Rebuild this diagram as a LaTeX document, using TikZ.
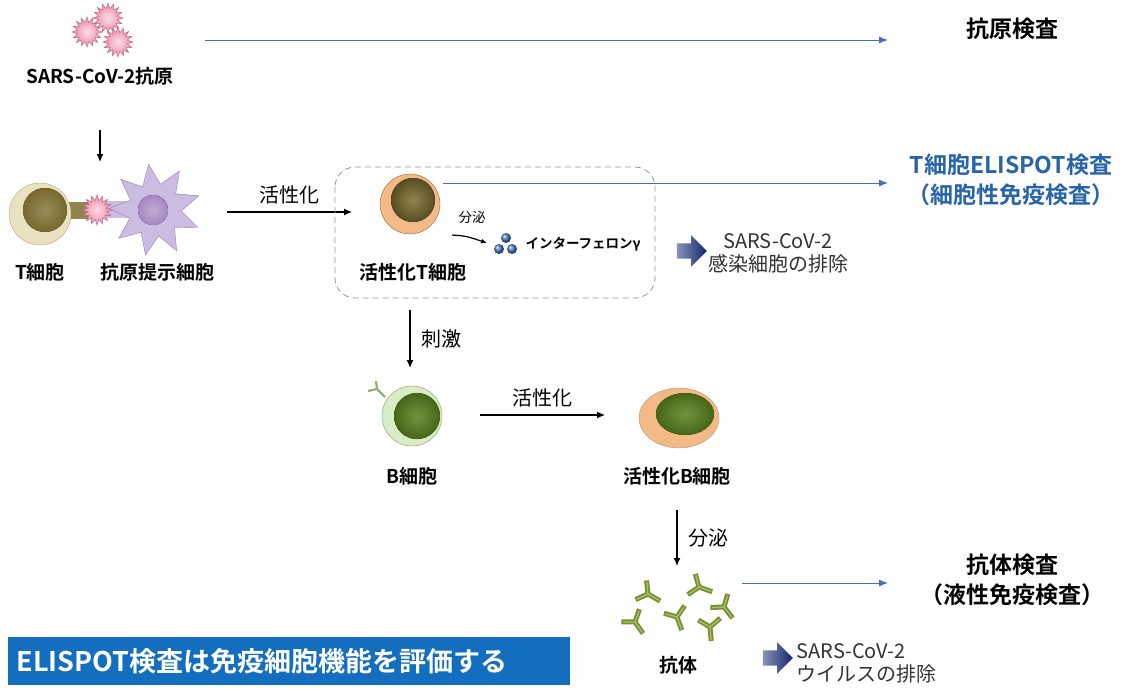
\documentclass[tikz,border=0pt]{standalone}
\usepackage{fontspec}
\setmainfont{Noto Sans CJK JP}[BoldFont={Noto Sans CJK JP Bold}]
\definecolor{testblue}{RGB}{66,114,176}
\definecolor{elispotblue}{RGB}{40,100,170}
\definecolor{bannerblue}{RGB}{20,110,192}
\definecolor{navyarrow}{RGB}{18,38,112}
\definecolor{virusfill}{RGB}{236,140,170}
\definecolor{virusedge}{RGB}{200,100,130}
\definecolor{tcream}{RGB}{232,226,190}
\definecolor{tedge}{RGB}{175,168,120}
\definecolor{olive}{RGB}{125,110,48}
\definecolor{lavender}{RGB}{205,188,225}
\definecolor{apcedge}{RGB}{150,125,180}
\definecolor{apccore}{RGB}{165,135,195}
\definecolor{actorange}{RGB}{243,185,135}
\definecolor{actedge}{RGB}{150,105,60}
\definecolor{bpale}{RGB}{218,236,198}
\definecolor{bedge}{RGB}{120,160,80}
\definecolor{bgreen}{RGB}{88,128,28}
\definecolor{abgreen}{RGB}{118,145,52}
\definecolor{ablight}{RGB}{170,192,100}
\definecolor{ifnblue}{RGB}{30,95,180}
\definecolor{boxgray}{RGB}{140,150,172}
\definecolor{notegray}{RGB}{50,50,50}
\usetikzlibrary{shapes.geometric,shapes.arrows,arrows.meta,positioning}

\begin{document}
\begin{tikzpicture}[x=1pt,y=-1pt,
  lbl/.style={font=\fontsize{19}{22}\selectfont\bfseries},
  note/.style={font=\fontsize{20}{23}\selectfont},
  small/.style={font=\fontsize{13.5}{15}\selectfont},
  test/.style={font=\fontsize{23}{30}\selectfont\bfseries,align=center},
  elim/.style={font=\fontsize{20}{23}\selectfont,text=notegray,align=center},
  flow/.style={-{Latex[length=8pt,width=7pt]},line width=1.2pt},
  testline/.style={-{Latex[length=9pt,width=7pt]},testblue,line width=0.9pt},
  virus/.style={star,star points=16,star point ratio=1.6,minimum size=#1,
                inner sep=0pt,draw=virusedge,line width=0.5pt,
                inner color=white!70!virusfill,outer color=virusfill},
  bigarrow/.style={single arrow,single arrow head extend=8pt,
                   minimum height=30pt,inner sep=7.5pt,
                   left color=navyarrow!50,right color=navyarrow},
  ab/.style={line width=5pt,abgreen},
  abin/.style={line width=1.3pt,ablight}]
\useasboundingbox (0,0) rectangle (1129,689);

% antigen
\node[virus=30pt] (v1) at (87,32) {};
\node[virus=30pt] (v2) at (108,18) {};
\node[virus=30pt] (v3) at (118,42) {};
\node[lbl] (agtxt) at (100,76) {SARS-CoV-2抗原};
\coordinate (agstart) at (205,40);
\coordinate (agend) at (888,40);
\draw[testline] (agstart) -- (agend);
\node[test] (agtest) at (1012,29) {抗原検査};

\coordinate (dn1a) at (100,130);
\coordinate (dn1b) at (100,162);
\draw[flow] (dn1a) -- (dn1b);

% T cell + antigen presenting cell
\fill[olive!85] (68,202) rectangle (100,219);
\fill[lavender] (100,201) rectangle (135,218);
\node[circle,minimum size=62pt,inner sep=0pt,draw=tedge,fill=tcream] (tcell) at (40,214) {};
\fill[inner color=olive!80,outer color=olive!95!black] (45,210) circle (22);
\node[star,star points=9,star point ratio=1.75,minimum size=92pt,inner sep=0pt,
      rotate=8,draw=apcedge,fill=lavender] (apc) at (155,210) {};
\fill[inner color=apccore!70,outer color=apccore] (153,210) circle (15);
\node[virus=30pt] (apcag) at (97,210) {};
\node[lbl] (tlbl) at (40,272) {T細胞};
\node[lbl] (apclbl) at (157,272) {抗原提示細胞};

\coordinate (act1a) at (227,212);
\coordinate (act1b) at (352,212);
\draw[flow] (act1a) -- node[above=4pt,note] (act1) {活性化} (act1b);

% activated T cell
\draw[boxgray,dashed,dash pattern=on 6pt off 4pt,rounded corners=20pt,line width=0.8pt]
  (335,167) rectangle (655,298);
\node[circle,minimum size=60pt,inner sep=0pt,draw=actedge,fill=actorange] (acttcell) at (410,204) {};
\fill[inner color=olive!85,outer color=olive!70!black] (413,200) circle (22);
\node[lbl] (acttlbl) at (413,272) {活性化T細胞};
\coordinate (elstart) at (443,183);
\coordinate (elend) at (888,183);
\draw[testline] (elstart) -- (elend);
\node[test,text=elispotblue] (eltest) at (1011,180) {T細胞ELISPOT検査\\（細胞性免疫検査）};

\coordinate (sec1a) at (452,235);
\coordinate (sec1b) at (487,243);
\draw[-{Latex[length=6pt,width=5pt]},line width=1.2pt] (sec1a) .. controls (466,236) .. (sec1b);
\node[small] (sec1) at (472,217) {分泌};
\shade[ball color=ifnblue!80!white] (506,238) circle (5);
\shade[ball color=ifnblue!80!white] (499,249) circle (5);
\shade[ball color=ifnblue!80!white] (512,249) circle (5);
\node[small,font=\fontsize{13.5}{15}\selectfont\bfseries,anchor=west] (ifn) at (522,244) {インターフェロンγ};

\node[bigarrow] (elim1) at (688,251) {};
\node[elim] (elim1txt) at (778,253) {SARS-CoV-2\\感染細胞の排除};

% B cell
\coordinate (stima) at (410,310);
\coordinate (stimb) at (410,368);
\draw[flow] (stima) -- node[right=8pt,note] (stim) {刺激} (stimb);
\draw[line width=2.2pt,bedge!80] (385,397) -- (377,389) -- (368,391) (377,389) -- (376,381);
\node[circle,minimum size=60pt,inner sep=0pt,draw=bedge,fill=bpale] (bcell) at (412,416) {};
\fill[inner color=bgreen!85,outer color=bgreen!80!black] (417,416) circle (23);
\node[lbl] (blbl) at (412,476) {B細胞};

\coordinate (act2a) at (480,415);
\coordinate (act2b) at (605,415);
\draw[flow] (act2a) -- node[above=4pt,note] (act2) {活性化} (act2b);

% activated B cell
\node[ellipse,minimum width=80pt,minimum height=60pt,inner sep=0pt,draw=actedge!70,fill=actorange] (actbcell) at (679,418) {};
\fill[inner color=bgreen!85,outer color=bgreen!80!black] (685,414) ellipse (29 and 21);
\node[lbl] (actblbl) at (677,476) {活性化B細胞};

\coordinate (sec2a) at (677,510);
\coordinate (sec2b) at (677,566);
\draw[flow] (sec2a) -- node[right=8pt,note] (sec2) {分泌} (sec2b);

% antibodies
\foreach \x/\y/\a in {648/594/60, 699/587/70, 724/607/38, 677/617/20, 635/622/35, 710/627/5}{
  \draw[ab,shift={(\x,\y)},rotate=\a] (0,14) -- (0,0) -- (-11,-8) (0,0) -- (11,-8);
  \draw[abin,shift={(\x,\y)},rotate=\a] (0,13) -- (0,0) -- (-10,-7) (0,0) -- (10,-7);
}
\node[lbl] (ablbl) at (678,665) {抗体};
\coordinate (abstart) at (742,583);
\coordinate (abend) at (888,583);
\draw[testline] (abstart) -- (abend);
\node[test] (abtest) at (1012,580) {抗体検査\\（液性免疫検査）};

\node[bigarrow] (elim2) at (774,658) {};
\node[elim,align=left,anchor=west] (elim2txt) at (793,663) {SARS-CoV-2\\ウイルスの排除};

% banner
\node[fill=bannerblue,text=white,minimum width=562pt,minimum height=48pt,
      text width=545pt,align=left,font=\fontsize{27}{30}\selectfont\bfseries]
  (banner) at (289,661) {ELISPOT検査は免疫細胞機能を評価する};
\end{tikzpicture}
\end{document}
